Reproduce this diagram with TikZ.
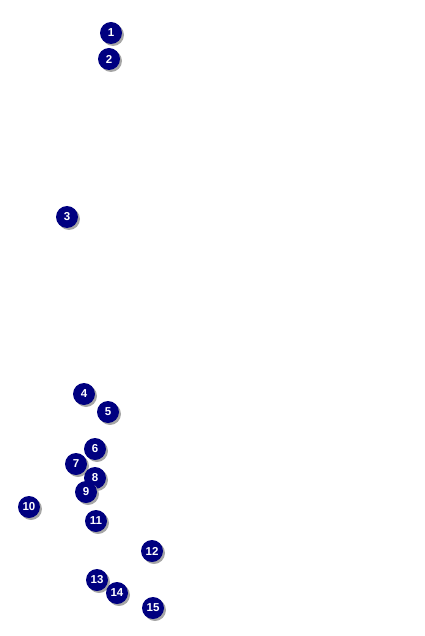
\documentclass[tikz,border=0pt]{standalone}
\usepackage{fontspec}
\setmainfont{Liberation Sans}
\usetikzlibrary{shadows}
\definecolor{Mcolor}{HTML}{000080}

\begin{document}
\begin{tikzpicture}[
  x=1pt, y=-1pt,
  marker/.style={circle, fill=Mcolor, minimum size=22pt, inner sep=0pt, text=white,
    font=\fontsize{11.5}{11.5}\selectfont\bfseries,
    drop shadow={shadow xshift=2pt, shadow yshift=-2pt, fill=gray!70, opacity=1}},
]
  \useasboundingbox (0,0) rectangle (424,636);

  % Markers
  \node[marker] (n1) at (111,33) {1};
  \node[marker] (n2) at (109,59) {2};
  \node[marker] (n3) at (67,217) {3};
  \node[marker] (n4) at (84,394) {4};
  \node[marker] (n5) at (108,412) {5};
  \node[marker] (n6) at (95,449) {6};
  \node[marker] (n7) at (76,464) {7};
  \node[marker] (n8) at (95,478) {8};
  \node[marker] (n9) at (86,492) {9};
  \node[marker] (n10) at (29,507) {10};
  \node[marker] (n11) at (96,521) {11};
  \node[marker] (n12) at (152,551) {12};
  \node[marker] (n13) at (97,580) {13};
  \node[marker] (n14) at (117,593) {14};
  \node[marker] (n15) at (153,608) {15};
\end{tikzpicture}
\end{document}
